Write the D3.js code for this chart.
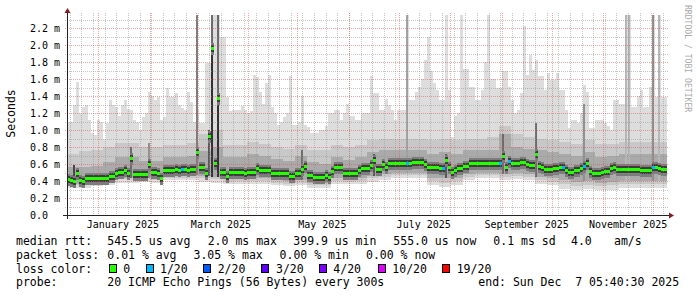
<!DOCTYPE html>
<html><head><meta charset="utf-8">
<script src="https://cdn.jsdelivr.net/npm/d3@7"></script>
<style>
html,body{margin:0;padding:0;background:#fff;}
svg{display:block;}
text{font-family:"DejaVu Sans Mono",monospace;white-space:pre;}
</style></head><body>
<svg id="c" width="697" height="297"></svg>
<script>
// ---------- data (ms) ----------
// median rtt, 200 equal time bins across the graph
const median = [
0.42,0.41,0.40,0.50,0.41,0.40,0.44,0.44,0.44,0.44,
0.44,0.43,0.43,0.43,0.46,0.46,0.50,0.51,0.51,0.53,
0.50,0.67,0.48,0.48,0.48,0.48,0.48,0.60,0.51,0.51,
0.50,0.43,0.53,0.53,0.53,0.53,0.54,0.53,0.54,0.54,
0.53,0.54,0.54,0.74,0.56,0.56,0.50,0.93,1.96,0.61,
1.38,0.51,0.51,0.46,0.51,0.51,0.51,0.51,0.51,0.49,
0.51,0.51,0.51,0.55,0.53,0.53,0.53,0.53,0.49,0.49,
0.49,0.50,0.50,0.50,0.46,0.46,0.49,0.49,0.54,0.58,
0.47,0.47,0.45,0.45,0.45,0.45,0.47,0.45,0.52,0.56,
0.56,0.56,0.50,0.50,0.50,0.50,0.50,0.53,0.55,0.55,
0.55,0.59,0.65,0.54,0.54,0.60,0.57,0.61,0.61,0.61,
0.61,0.61,0.61,0.61,0.61,0.62,0.62,0.62,0.62,0.60,
0.57,0.57,0.57,0.57,0.55,0.55,0.65,0.56,0.51,0.53,
0.55,0.55,0.58,0.58,0.61,0.61,0.61,0.61,0.61,0.61,
0.61,0.61,0.61,0.61,0.61,0.69,0.56,0.64,0.61,0.61,
0.61,0.62,0.62,0.60,0.59,0.59,0.72,0.58,0.57,0.54,
0.54,0.54,0.55,0.55,0.56,0.56,0.53,0.51,0.51,0.53,
0.53,0.55,0.58,0.61,0.52,0.50,0.50,0.50,0.51,0.52,
0.52,0.55,0.57,0.54,0.54,0.54,0.54,0.54,0.54,0.54,
0.54,0.53,0.53,0.53,0.53,0.56,0.56,0.55,0.54,0.54];
// highest ping per bin (top of the lightest smoke)
const maxRtt = [
1.10,1.10,1.30,1.57,1.20,1.27,1.29,1.12,0.96,0.94,
1.12,1.10,0.90,1.08,1.35,1.30,1.27,1.16,1.30,1.35,
1.25,1.24,1.12,1.10,1.00,1.15,1.20,1.45,1.40,1.35,
1.39,1.12,1.15,1.49,1.39,1.39,1.43,1.29,1.26,1.24,
1.45,1.33,1.10,1.24,1.08,1.08,1.79,1.79,2.36,2.36,
2.36,2.10,2.10,1.39,1.22,1.24,1.24,1.24,1.28,1.24,
1.20,1.22,1.65,1.62,1.45,1.31,1.55,1.65,1.27,1.20,
1.06,1.10,1.15,1.20,1.63,1.06,1.06,1.10,1.40,1.06,
1.04,0.96,0.96,0.96,1.00,1.00,1.05,1.20,1.20,1.24,
1.24,1.12,1.20,1.31,1.16,1.16,1.12,1.12,1.20,1.20,
1.20,1.63,1.43,1.43,1.24,1.24,1.37,1.30,1.24,1.12,
1.24,1.24,1.24,2.36,1.35,1.35,1.45,1.51,1.60,1.82,
2.10,1.70,1.55,1.47,1.35,1.35,2.36,1.47,0.92,1.16,
1.20,2.36,1.72,1.72,1.51,1.51,1.35,1.35,1.47,1.80,
2.36,1.60,1.60,1.49,1.49,1.70,1.70,1.51,1.35,1.20,
1.24,1.43,2.22,1.65,1.88,1.71,1.82,1.63,1.63,1.47,
1.67,1.59,1.59,1.67,1.47,1.47,1.24,1.02,1.12,1.12,
1.08,1.20,1.53,1.45,1.02,1.02,1.12,1.12,1.12,1.08,
1.05,1.00,1.35,1.35,1.31,1.31,2.36,2.36,1.27,1.27,
1.40,1.47,1.27,1.27,1.51,2.36,1.39,2.36,1.39,1.39];
// packet loss (of 20) per bin: bins with loss
const lossBin   = [38,113,125,144,147,165,172,195];
const lossCount = [1,1,1,1,1,1,1,1];
// coarse smoke quantiles, 50 equal time bins
const minRtt = [0.32,0.32,0.34,0.35,0.38,0.38,0.39,0.38,0.41,0.41,0.41,0.39,0.38,0.36,0.37,0.37,0.37,0.35,0.34,0.35,
0.32,0.32,0.37,0.36,0.37,0.39,0.41,0.43,0.43,0.43,0.35,0.33,0.35,0.41,0.43,0.43,0.41,0.42,0.41,0.37,
0.35,0.31,0.29,0.31,0.29,0.30,0.32,0.32,0.32,0.32];
const low2 = [0.35,0.35,0.37,0.38,0.42,0.41,0.42,0.41,0.44,0.44,0.44,0.43,0.42,0.39,0.40,0.40,0.40,0.38,0.37,0.38,
0.35,0.35,0.40,0.39,0.40,0.43,0.45,0.47,0.47,0.47,0.40,0.38,0.40,0.45,0.47,0.47,0.45,0.46,0.45,0.41,
0.39,0.36,0.34,0.35,0.34,0.35,0.36,0.36,0.36,0.36];
const low3 = [0.37,0.37,0.39,0.40,0.44,0.43,0.44,0.44,0.47,0.47,0.47,0.46,0.45,0.42,0.43,0.43,0.43,0.41,0.40,0.41,
0.38,0.38,0.43,0.42,0.43,0.46,0.48,0.50,0.50,0.50,0.44,0.43,0.43,0.48,0.50,0.50,0.48,0.49,0.48,0.45,
0.43,0.41,0.39,0.40,0.38,0.39,0.40,0.40,0.40,0.40];
const high3 = [0.56,0.56,0.58,0.62,0.68,0.68,0.64,0.64,0.68,0.68,0.70,0.75,0.80,0.68,0.68,0.72,0.70,0.66,0.64,0.70,
0.62,0.60,0.68,0.65,0.68,0.74,0.76,0.76,0.76,0.76,0.72,0.74,0.72,0.76,0.76,0.76,0.95,0.80,0.78,0.76,
0.74,0.72,0.70,0.74,0.68,0.70,0.72,0.72,0.72,0.72];
const high2 = [0.72,0.75,0.76,0.80,0.85,0.85,0.80,0.80,0.82,0.82,0.85,0.95,1.00,0.82,0.82,0.86,0.84,0.80,0.78,0.82,
0.76,0.76,0.82,0.80,0.82,0.88,0.90,0.90,0.90,0.90,0.88,0.90,0.88,0.90,0.90,0.92,1.05,0.95,0.92,0.90,
0.88,0.86,0.84,0.88,0.84,0.84,0.86,0.86,0.86,0.86];
// narrow bursts of high pings (bin in the 200-bin series, top value, smoke layers reaching it)
const spikeBin   = [2,21,27,43,47,48,48,50,50,78,102,113,126,145,156,172,186,187,195,197];
const spikeTop   = [0.59,0.80,0.85,2.36,1.00,2.36,1.96,2.36,1.38,0.77,0.72,2.36,0.72,0.95,1.08,1.31,2.36,2.36,2.36,2.36];
const spikeDepth = [9,7,5,6,8,7,10,7,10,7,8,4,8,7,7,5,3,3,5,3];

const yMajor = [0,0.2,0.4,0.6,0.8,1.0,1.2,1.4,1.6,1.8,2.0,2.2];
const yMinor = [0.1,0.3,0.5,0.7,0.9,1.1,1.3,1.5,1.7,1.9,2.1,2.3];

const lossLevels = [0,1,2,3,4,10,19];
const lossLabels = ["0","1/20","2/20","3/20","4/20","10/20","19/20"];
const lossColors = ["#26ff00","#00b8ff","#0059ff","#5e00ff","#7e00ff","#dd00ff","#ff0000"];

const row1 = [["median rtt:",16],["545.5 us avg",107.3],["2.0 ms max",207.7],["399.9 us min",293.3],["555.0 us now",393.3],["0.1 ms sd",493.3],["4.0",571],["am/s",614]];
const row2 = [["packet loss:",16],["0.01 % avg",107.3],["3.05 % max",193.5],["0.00 % min",279.6],["0.00 % now",366]];
const row4 = [["probe:",16],["20 ICMP Echo Pings (56 Bytes) every 300s",107.3],["end: Sun Dec  7 05:40:30 2025",478.3]];

// ---------- scales ----------
const X0=67, X1=667, Y0=215, Y1=15;
const tStart=new Date(2024,11,13,8,0,0), tEnd=new Date(2025,11,9,10,0,0);
const x=d3.scaleTime().domain([tStart,tEnd]).range([X0,X1]);
const y=d3.scaleLinear().domain([0,200/85]).range([Y0,Y1]).clamp(true);
const N=median.length, M=minRtt.length;
const binTime=(i,n)=>new Date(+tStart+(tEnd-tStart)*i/n);
const bx=i=>x(binTime(i,N));
const cj=i=>Math.floor(i*M/N);
const grayOf=d=>{const v=Math.round(50+190/10*(10-d));return `rgb(${v},${v},${v})`;};

const svg=d3.select("#c");
const idx=d3.range(N);
function band(top,bot,fill){
  svg.append("g").attr("shape-rendering","crispEdges").selectAll("rect").data(idx).join("rect")
   .attr("x",i=>bx(i)).attr("width",i=>bx(i+1)-bx(i))
   .attr("y",i=>y(top(i))).attr("height",i=>Math.max(0,y(bot(i))-y(top(i))))
   .attr("fill",fill);
}
band(i=>maxRtt[i], i=>minRtt[cj(i)], "#dddddd");
band(i=>Math.min(maxRtt[i],high2[cj(i)]), i=>low2[cj(i)], "#c8c8c8");
band(i=>Math.min(maxRtt[i],high3[cj(i)]), i=>low3[cj(i)], "#aaaaaa");

// spikes
const sp=d3.range(spikeBin.length).sort((a,b)=>spikeDepth[a]-spikeDepth[b]);
svg.append("g").attr("shape-rendering","crispEdges").selectAll("rect").data(sp).join("rect")
  .attr("x",k=>Math.round(bx(spikeBin[k])))
  .attr("width",2)
  .attr("y",k=>y(spikeTop[k]))
  .attr("height",k=>y(low3[cj(spikeBin[k])])-y(spikeTop[k]))
  .attr("fill",k=>grayOf(spikeDepth[k]));

// dark core around median
svg.append("g").attr("shape-rendering","crispEdges").selectAll("rect").data(idx).join("rect")
  .attr("x",i=>bx(i)).attr("width",i=>bx(i+1)-bx(i))
  .attr("y",i=>Math.round(y(median[i]))-5).attr("height",12).attr("fill","#7c7c7c");
svg.append("g").attr("shape-rendering","crispEdges").selectAll("rect").data(idx).join("rect")
  .attr("x",i=>bx(i)).attr("width",i=>bx(i+1)-bx(i))
  .attr("y",i=>Math.round(y(median[i]))-3).attr("height",7).attr("fill","#3c3c3c");

// ---------- grid ----------
const grid=svg.append("g").attr("shape-rendering","crispEdges").attr("stroke-dasharray","1,1");
const gCol="rgba(143,143,143,0.5)", mCol="rgba(222,79,79,0.5)";
grid.selectAll(".hm").data(yMinor).join("line")
  .attr("x1",X0-2).attr("x2",X1+2).attr("y1",v=>Math.round(y(v))+0.5).attr("y2",v=>Math.round(y(v))+0.5)
  .attr("stroke",gCol);
const weeks=x.ticks(d3.timeWeek.every(1));
const months=x.ticks(d3.timeMonth.every(1));
grid.selectAll(".vm").data(weeks).join("line")
  .attr("y1",Y1-2).attr("y2",Y0+2).attr("x1",t=>Math.round(x(t))+0.5).attr("x2",t=>Math.round(x(t))+0.5)
  .attr("stroke",gCol);
grid.selectAll(".hM").data(yMajor.filter(v=>v>0)).join("line")
  .attr("x1",X0-2).attr("x2",X1+2).attr("y1",v=>Math.round(y(v))+0.5).attr("y2",v=>Math.round(y(v))+0.5)
  .attr("stroke",mCol);
grid.selectAll(".vM").data(months).join("line")
  .attr("y1",Y1-2).attr("y2",Y0+2).attr("x1",t=>Math.round(x(t))+0.5).attr("x2",t=>Math.round(x(t))+0.5)
  .attr("stroke",mCol);

// ---------- median coloured by loss ----------
const lossOf=i=>{const k=lossBin.indexOf(i);return k<0?0:lossCount[k];};
const colOf=c=>{let j=0;lossLevels.forEach((l,k)=>{if(c>=l)j=k;});return lossColors[j];};
svg.append("g").attr("shape-rendering","crispEdges").selectAll("rect").data(idx).join("rect")
  .attr("x",i=>bx(i)).attr("width",i=>bx(i+1)-bx(i))
  .attr("y",i=>Math.round(y(median[i]))-1).attr("height",3)
  .attr("fill",i=>colOf(lossOf(i)));

// ---------- axes ----------
const ax=svg.append("g").attr("shape-rendering","crispEdges");
ax.append("line").attr("x1",X0-4).attr("x2",X1+4).attr("y1",Y0+0.5).attr("y2",Y0+0.5).attr("stroke","#222");
ax.append("line").attr("x1",X0+0.5).attr("x2",X0+0.5).attr("y1",Y0+4).attr("y2",Y1-4).attr("stroke","#222");
svg.append("path").attr("d",`M${X1+2},${Y0+0.5-3}L${X1+2},${Y0+0.5+3}L${X1+7},${Y0+0.5}Z`).attr("fill","#801f1f");
svg.append("path").attr("d",`M${X0+0.5-3},${Y1-2}L${X0+0.5+3},${Y1-2}L${X0+0.5},${Y1-7}Z`).attr("fill","#801f1f");

svg.append("g").selectAll("text").data(yMajor).join("text")
  .attr("x",30).attr("y",v=>y(v)+3.5).attr("font-size",10)
  .text(v=>v===0?"0.0":d3.format(".1f")(v)+" m");
const labMonths=x.ticks(d3.timeMonth.every(2));
svg.append("g").selectAll("text").data(labMonths).join("text")
  .attr("x",t=>x(d3.timeDay.offset(t,15))).attr("y",228).attr("text-anchor","middle").attr("font-size",10)
  .text(d3.timeFormat("%B %Y"));

svg.append("text").attr("transform","translate(14.5,113.5) rotate(-90)").attr("text-anchor","middle")
  .attr("font-size",11.5).text("Seconds");
svg.append("text").attr("transform","translate(685,5) rotate(90)").attr("font-size",8.1)
  .attr("fill","#aaaaaa").text("RRDTOOL / TOBI OETIKER");

// ---------- legend ----------
const fs=11.5;
function row(items,yy){
  svg.append("g").selectAll("text").data(items).join("text")
   .attr("x",d=>d[1]).attr("y",yy).attr("font-size",fs).text(d=>d[0]);
}
row(row1,245.3);
row(row2,259);
row(row4,286.3);
svg.append("text").attr("x",16).attr("y",272.7).attr("font-size",fs).text("loss color:");
const boxX=[109,145.7,203.3,261.3,319.3,377.7,442.3];
const labX=[123.3,160,217.7,276,333.3,392.3,456.7];
const lg=svg.append("g");
lossLabels.forEach((l,k)=>{
  lg.append("rect").attr("x",Math.round(boxX[k])+0.5).attr("y",264.5).attr("width",7).attr("height",8)
    .attr("fill",lossColors[k]).attr("stroke","#000").attr("stroke-width",1);
  lg.append("text").attr("x",labX[k]).attr("y",272.7).attr("font-size",fs).text(l);
});
</script>
</body></html>
